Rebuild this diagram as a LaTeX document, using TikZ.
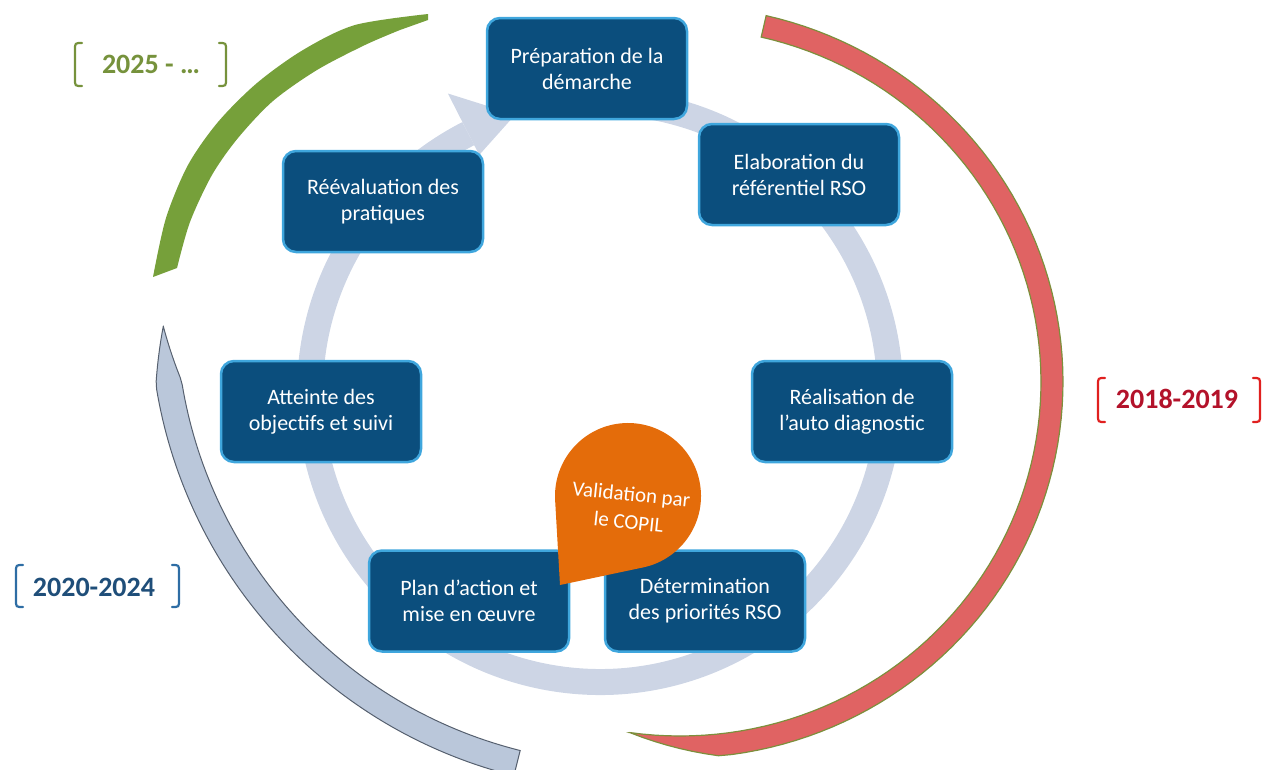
\documentclass[tikz,border=0pt]{standalone}
\usepackage{fontspec}
\setmainfont{Carlito}
\definecolor{ringc}{HTML}{CDD5E5}
\definecolor{boxfill}{HTML}{0B4E7D}
\definecolor{boxedge}{HTML}{3FA6DD}
\definecolor{greenc}{HTML}{76A03A}
\definecolor{greent}{HTML}{76923C}
\definecolor{redc}{HTML}{E06363}
\definecolor{rededge}{HTML}{7D8F3C}
\definecolor{redt}{HTML}{B3122A}
\definecolor{redb}{HTML}{E0201F}
\definecolor{greyc}{HTML}{BAC7DA}
\definecolor{greyedge}{HTML}{56606F}
\definecolor{bluet}{HTML}{1F4E79}
\definecolor{blueb}{HTML}{2E6DA4}
\definecolor{orangec}{HTML}{E46C0A}
\begin{document}
\begin{tikzpicture}[x=1pt,y=1pt,
  stepbox/.style={draw=boxedge, line width=2.5pt, fill=boxfill, rounded corners=13pt,
    minimum width=200pt, minimum height=101pt, inner sep=0pt, text=white,
    align=center, font=\fontsize{22}{26}\selectfont},
  yearlbl/.style={font=\fontsize{28}{32}\selectfont\bfseries, inner sep=0pt},
  bracket/.style={line width=2.2pt, line cap=round}
]
\useasboundingbox (0,0) rectangle (1275,-769);

% background circular arrow
\draw[ringc, line width=26pt] (600,-392) ++(82:290) arc[start angle=82, end angle=-243, radius=290];
\fill[ringc] (447.9,-93.5) -- (515.2,-114.7) -- (479.2,-155) -- cycle;

% green arc (2025 - ...)
\fill[greenc] plot[smooth] coordinates {(153,-277) (166,-218) (188,-165) (218,-122) (257,-83) (303,-50) (355,-25) (428,-14)}
  -- (428,-20)
  -- plot[smooth] coordinates {(400,-30) (365,-45) (317,-70) (273,-101) (238,-138) (212,-175) (190,-222) (177,-268)}
  -- cycle;

% red arc (2018-2019)
\filldraw[fill=redc, draw=rededge, line width=1.2pt]
  plot[domain=77:-98, samples=90, variable=\t]
    ({680+(361+22*min(1,(\t+98)/14))*cos(\t)}, {-382+(354+22*min(1,(\t+98)/14))*sin(\t)})
  -- plot[domain=-98:77, samples=90, variable=\t]
    ({680+361*cos(\t)}, {-382+354*sin(\t)})
  -- cycle;

% grey arc (2020-2024)
\filldraw[fill=greyc, draw=greyedge, line width=1pt]
  plot[domain=182:256, samples=80, variable=\t]
    ({630+(467+13*min(1,(\t-182)/7))*cos(\t)}, {-310+(467+13*min(1,(\t-182)/7))*sin(\t)})
  -- plot[domain=256:182, samples=80, variable=\t]
    ({630+(467-13*min(1,(\t-182)/7))*cos(\t)}, {-310+(467-13*min(1,(\t-182)/7))*sin(\t)})
  -- cycle;

% steps
\node[stepbox] (prep) at (587,-68.5) {Préparation de la\\démarche};
\node[stepbox] (elab) at (799,-174.5) {Elaboration du\\référentiel RSO};
\node[stepbox] (real) at (852,-411.5) {Réalisation de\\l’auto diagnostic};
\node[stepbox] (det) at (705,-601) {Détermination\\des priorités RSO};
\node[stepbox] (plan) at (469,-601) {Plan d’action et\\mise en œuvre};
\node[stepbox] (att) at (321,-411.5) {Atteinte des\\objectifs et suivi};
\node[stepbox] (reev) at (383,-201.5) {Réévaluation des\\pratiques};

% orange drop
\fill[orangec] (560,-585) -- (643.05,-567.43) arc[start angle=281.9, end angle=543.3, radius=73] -- cycle;
\node[rotate=-6, text=white, align=center, font=\fontsize{21}{28}\selectfont, inner sep=0pt] (copil) at (630,-508) {Validation par\\le COPIL};

% period labels
\node[yearlbl, text=greent] (y2025) at (151,-64) {2025 - …};
\draw[bracket, greent] (82,-43) .. controls (75,-43) .. (75,-50) -- (75,-79) .. controls (75,-86) .. (82,-86);
\draw[bracket, greent] (219,-43) .. controls (226,-43) .. (226,-50) -- (226,-79) .. controls (226,-86) .. (219,-86);

\node[yearlbl, text=redt] (y2018) at (1177,-399) {2018-2019};
\draw[bracket, redb] (1105,-378) .. controls (1098,-378) .. (1098,-385) -- (1098,-415) .. controls (1098,-422) .. (1105,-422);
\draw[bracket, redb] (1253,-378) .. controls (1260,-378) .. (1260,-385) -- (1260,-415) .. controls (1260,-422) .. (1253,-422);

\node[yearlbl, text=bluet] (y2020) at (94,-587) {2020-2024};
\draw[bracket, blueb] (23,-565) .. controls (16,-565) .. (16,-572) -- (16,-600) .. controls (16,-607) .. (23,-607);
\draw[bracket, blueb] (172,-565) .. controls (179,-565) .. (179,-572) -- (179,-600) .. controls (179,-607) .. (172,-607);
\end{tikzpicture}
\end{document}
